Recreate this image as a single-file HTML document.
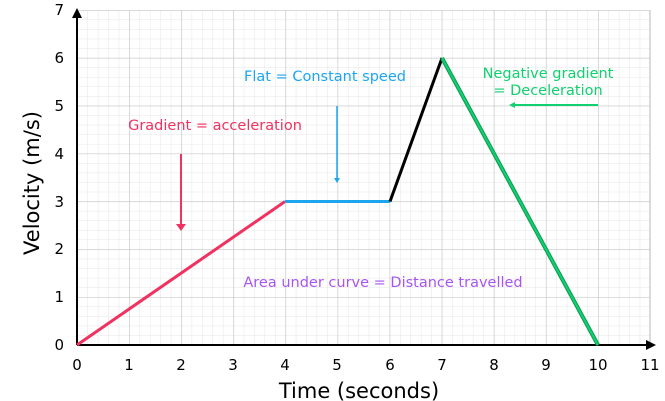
<!DOCTYPE html>
<html><head><style>body{margin:0;background:#fff}svg{display:block}</style></head><body>
<svg width="665" height="401" xmlns="http://www.w3.org/2000/svg" font-family="DejaVu Sans, sans-serif">
<defs>
<pattern id="mn" x="77" y="10" width="10.42" height="9.566" patternUnits="userSpaceOnUse">
<path d="M0 0V9.566M0 0H10.42" stroke="#e6e6e6" stroke-width="1" fill="none"/>
</pattern>
<pattern id="mj" x="77" y="10" width="52.1" height="47.83" patternUnits="userSpaceOnUse">
<path d="M0 0V47.83M0 0H52.1" stroke="#c8c8c8" stroke-width="1.3" fill="none"/>
</pattern>
</defs>
<rect x="77" y="10" width="573" height="335" fill="url(#mn)"/>
<rect x="77" y="10" width="573" height="335" fill="url(#mj)"/>
<line x1="650" y1="10" x2="650" y2="345" stroke="#c8c8c8" stroke-width="1.3"/>
<line x1="77" y1="345" x2="648" y2="345" stroke="#000" stroke-width="2"/>
<polygon points="656,345 646,340 646,350" fill="#000"/>
<line x1="77" y1="345" x2="77" y2="16" stroke="#000" stroke-width="2"/>
<polygon points="77,8 72,18 82,18" fill="#000"/>
<g font-size="15" fill="#000" text-anchor="middle">
<text x="77" y="370">0</text><text x="129" y="370">1</text><text x="181" y="370">2</text><text x="233" y="370">3</text><text x="285" y="370">4</text><text x="337" y="370">5</text><text x="390" y="370">6</text><text x="442" y="370">7</text><text x="494" y="370">8</text><text x="546" y="370">9</text><text x="598" y="370">10</text><text x="650" y="370">11</text>
</g>
<g font-size="15" fill="#000" text-anchor="end">
<text x="64" y="350">0</text><text x="64" y="302">1</text><text x="64" y="254">2</text><text x="64" y="207">3</text><text x="64" y="159">4</text><text x="64" y="111">5</text><text x="64" y="63">6</text><text x="64" y="15">7</text>
</g>
<text x="359" y="398" font-size="21" text-anchor="middle">Time (seconds)</text>
<text transform="translate(39,183) rotate(-90)" font-size="21" text-anchor="middle">Velocity (m/s)</text>
<line x1="77" y1="345" x2="285" y2="201.5" stroke="#f03260" stroke-width="3"/>
<line x1="285" y1="201.5" x2="390" y2="201.5" stroke="#1ea5f0" stroke-width="3"/>
<line x1="390" y1="201.5" x2="442" y2="58" stroke="#000" stroke-width="3"/>
<line x1="442" y1="58" x2="598" y2="345" stroke="#0a9a50" stroke-width="4"/>
<line x1="442" y1="58" x2="598" y2="345" stroke="#10d070" stroke-width="2"/>
<text x="215" y="130" font-size="14.5" fill="#f03260" text-anchor="middle">Gradient = acceleration</text>
<line x1="181" y1="154" x2="181" y2="226" stroke="#f03260" stroke-width="2"/>
<polygon points="176,224 186,224 181,231" fill="#f03260"/>
<text x="325" y="81" font-size="14.5" fill="#1ea5f0" text-anchor="middle">Flat = Constant speed</text>
<line x1="337" y1="106" x2="337" y2="180" stroke="#1ea5f0" stroke-width="1.5"/>
<polygon points="334,178 340,178 337,183" fill="#1ea5f0"/>
<text x="548" y="78" font-size="14.5" fill="#10d070" text-anchor="middle">Negative gradient</text>
<text x="548" y="95" font-size="14.5" fill="#10d070" text-anchor="middle">= Deceleration</text>
<line x1="512" y1="105" x2="598" y2="105" stroke="#10d070" stroke-width="2"/>
<polygon points="509,105 515,102 515,108" fill="#10d070"/>
<text x="383" y="287" font-size="14.5" fill="#a855f0" text-anchor="middle">Area under curve = Distance travelled</text>
</svg>
</body></html>
